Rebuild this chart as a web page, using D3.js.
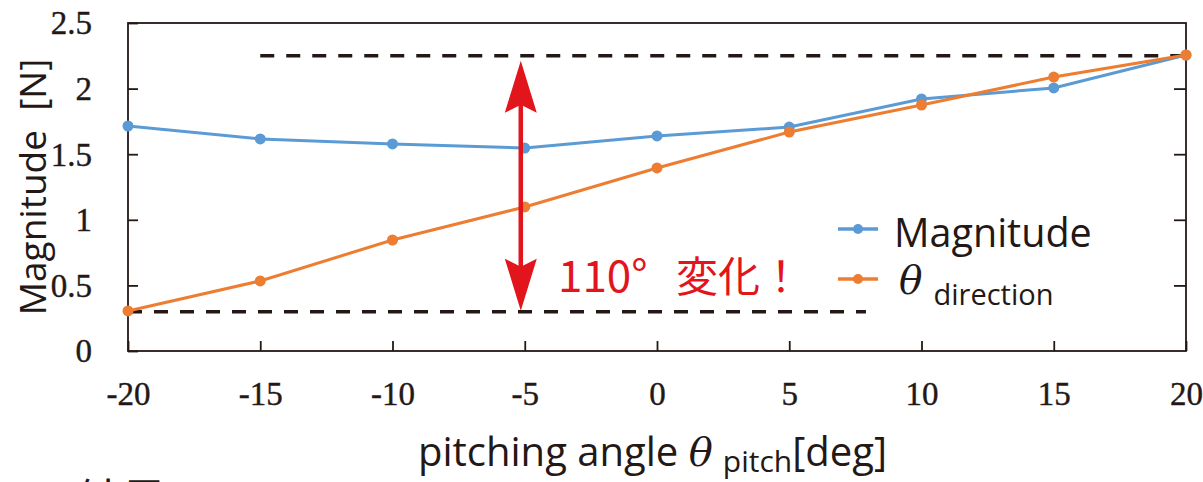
<!DOCTYPE html>
<html>
<head>
<meta charset="utf-8">
<script src="https://cdn.jsdelivr.net/npm/d3@7/dist/d3.min.js"></script>
<style>
  html, body { margin: 0; padding: 0; background: #fff; }
  svg { display: block; }
</style>
</head>
<body>
<svg id="chart" width="1203" height="482"></svg>
<script>
'use strict';

// pitching angle [deg]
var angles = [-20, -15, -10, -5, 0, 5, 10, 15, 20];
var magnitude = [1.715, 1.616, 1.578, 1.547, 1.639, 1.707, 1.921, 2.005, 2.256];
var direction = [0.305, 0.534, 0.846, 1.098, 1.395, 1.669, 1.875, 2.088, 2.256];
var yTicks = [0, 0.5, 1, 1.5, 2, 2.5];
var xTicks = [-20, -15, -10, -5, 0, 5, 10, 15, 20];
// reference lines: [x0, x1, y]
var refTop = [-15, 20, 2.25];
var refBottom = [-20, 7.9, 0.30];
var arrowX = -5.15;

var ink = '#231815', blue = '#5b9bd5', orange = '#ed7d31', red = '#e2141c';
var sans = '"Open Sans", "Noto Sans", sans-serif';
var serif = '"Liberation Serif", "Times New Roman", serif';

var svg = d3.select('#chart');
var m = { left: 128, right: 1186, top: 23, bottom: 351 };

var x = d3.scaleLinear().domain([-20, 20]).range([m.left, m.right]);
var y = d3.scaleLinear().domain([0, 2.5]).range([m.bottom, m.top]);

// frame
svg.append('rect')
  .attr('x', m.left).attr('y', m.top)
  .attr('width', m.right - m.left).attr('height', m.bottom - m.top)
  .attr('fill', 'none').attr('stroke', ink).attr('stroke-width', 1.8);

// axes, ticks pointing inward
var fmt = function (d) { return String(d); };
var xAxis = svg.append('g').attr('transform', 'translate(0,' + m.bottom + ')')
  .call(d3.axisBottom(x).tickValues(xTicks).tickSizeInner(-10).tickSizeOuter(0).tickPadding(44).tickFormat(fmt));
var yAxis = svg.append('g').attr('transform', 'translate(' + m.left + ',0)')
  .call(d3.axisLeft(y).tickValues(yTicks).tickSizeInner(-10).tickSizeOuter(0).tickPadding(36).tickFormat(fmt));
var yRight = svg.append('g').attr('transform', 'translate(' + m.right + ',0)')
  .call(d3.axisRight(y).tickValues(yTicks.slice(1, -1)).tickSizeInner(-12).tickSizeOuter(0).tickFormat(''));

[xAxis, yAxis, yRight].forEach(function (g) {
  g.select('.domain').remove();
  g.selectAll('line').attr('stroke', ink).attr('stroke-width', 1.8);
  g.selectAll('text').attr('fill', ink).attr('stroke', ink).attr('stroke-width', 0.4)
    .style('font-family', serif).style('font-size', '33px');
});
xAxis.selectAll('text').attr('dy', '0.3em');
yAxis.selectAll('text').attr('dy', '0.33em');

// dashed reference lines
[refTop, refBottom].forEach(function (r) {
  svg.append('line')
    .attr('x1', x(r[0])).attr('x2', x(r[1]))
    .attr('y1', y(r[2])).attr('y2', y(r[2]))
    .attr('stroke', ink).attr('stroke-width', 3.5)
    .attr('stroke-dasharray', '14,12');
});

// series
var line = d3.line()
  .x(function (d) { return x(d[0]); })
  .y(function (d) { return y(d[1]); });

function drawSeries(vals, color) {
  var pts = angles.map(function (a, i) { return [a, vals[i]]; });
  svg.append('path').datum(pts)
    .attr('d', line).attr('fill', 'none')
    .attr('stroke', color).attr('stroke-width', 3);
  svg.append('g').selectAll('circle').data(pts).enter().append('circle')
    .attr('cx', function (d) { return x(d[0]); })
    .attr('cy', function (d) { return y(d[1]); })
    .attr('r', 5.5).attr('fill', color);
}
drawSeries(magnitude, blue);
drawSeries(direction, orange);

// double arrow
var ax = x(arrowX), aTop = y(refTop[2]) + 5, aBot = y(refBottom[2]) - 1;
svg.append('line')
  .attr('x1', ax).attr('x2', ax).attr('y1', aTop + 40).attr('y2', aBot - 40)
  .attr('stroke', red).attr('stroke-width', 4.5);
function head(tipY, dir) {
  var p = [[ax, tipY], [ax + 16, tipY + dir * 52], [ax, tipY + dir * 44], [ax - 16, tipY + dir * 52]];
  svg.append('path').attr('d', 'M' + p.join('L') + 'Z').attr('fill', red);
}
head(aTop, 1);
head(aBot, -1);

var cjk = '"Noto Sans CJK JP", sans-serif';
svg.append('text').attr('x', 558).attr('y', 292)
  .attr('fill', red).style('font-family', cjk).style('font-size', '44px')
  .text('110°');
svg.append('text').attr('x', 676).attr('y', 292)
  .attr('fill', red).style('font-family', cjk).style('font-size', '42px')
  .text('変化！');

// legend
var legend = [
  { color: blue, y: 229 },
  { color: orange, y: 279 }
];
legend.forEach(function (l) {
  svg.append('line').attr('x1', 838).attr('x2', 878).attr('y1', l.y).attr('y2', l.y)
    .attr('stroke', l.color).attr('stroke-width', 3.5);
  svg.append('circle').attr('cx', 858).attr('cy', l.y).attr('r', 5).attr('fill', l.color);
});
svg.append('text').attr('x', 894).attr('y', 247)
  .attr('fill', ink).style('font-family', sans).style('font-size', '39.5px')
  .text('Magnitude');
var t2 = svg.append('text').attr('x', 899).attr('y', 294)
  .attr('fill', ink).style('font-family', sans).style('font-size', '39px');
t2.append('tspan').style('font-style', 'italic').style('font-family', '"DejaVu Serif", serif').text('θ');
t2.append('tspan').attr('dx', 11).attr('dy', 11).style('font-size', '29px').text('direction');

// axis titles
svg.append('text')
  .attr('transform', 'translate(46,187) rotate(-90)')
  .attr('text-anchor', 'middle')
  .attr('fill', ink).style('font-family', sans).style('font-size', '37px')
  .text('Magnitude\u00a0\u00a0[N]');

var xt = svg.append('text').attr('x', 418).attr('y', 466)
  .attr('fill', ink).style('font-family', sans).style('font-size', '40px');
xt.append('tspan').text('pitching angle ');
xt.append('tspan').style('font-style', 'italic').style('font-family', '"DejaVu Serif", serif').text('θ');
xt.append('tspan').attr('dx', 10).attr('dy', 6).style('font-size', '30px').text('pitch');
xt.append('tspan').attr('dy', -6).text('[deg]');

// cut-off heading below the figure
svg.append('text').attr('x', 78).attr('y', 516)
  .attr('fill', ink).style('font-family', cjk).style('font-size', '44px')
  .text('結果');
</script>
</body>
</html>
